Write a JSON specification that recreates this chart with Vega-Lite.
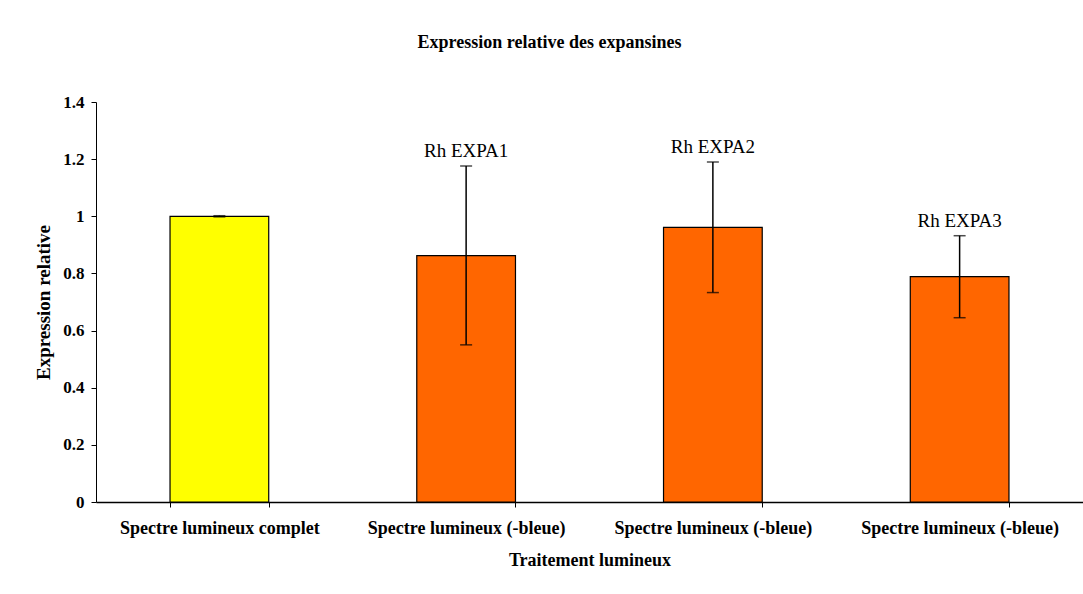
{
  "$schema": "https://vega.github.io/schema/vega-lite/v6.json",
  "width": 987,
  "height": 400,
  "autosize": {"type": "none"},
  "padding": {"left": 96, "top": 102, "right": 0, "bottom": 92},
  "background": "white",
  "config": {"view": {"stroke": null}},
  "title": {
    "text": "Expression relative des expansines",
    "font": "Liberation Serif",
    "fontWeight": "bold",
    "fontSize": 18,
    "color": "black",
    "anchor": "middle",
    "dx": -40,
    "offset": 41
  },
  "data": {
    "values": [
      {"cat": "1|Spectre lumineux complet", "grp": "complet", "val": 1.0, "lo": 0.998, "hi": 1.002, "label": ""},
      {"cat": "2|Spectre lumineux (-bleue)", "grp": "sans bleu", "val": 0.862, "lo": 0.55, "hi": 1.176, "label": "Rh EXPA1"},
      {"cat": "3|Spectre lumineux (-bleue)", "grp": "sans bleu", "val": 0.961, "lo": 0.733, "hi": 1.19, "label": "Rh EXPA2"},
      {"cat": "4|Spectre lumineux (-bleue)", "grp": "sans bleu", "val": 0.789, "lo": 0.645, "hi": 0.932, "label": "Rh EXPA3"}
    ]
  },
  "encoding": {
    "x": {
      "field": "cat",
      "type": "nominal",
      "sort": null,
      "scale": {"paddingInner": 0.6, "paddingOuter": 0.3},
      "axis": {
        "title": "Traitement lumineux",
        "labelExpr": "split(datum.value, '|')[1]",
        "labelAngle": 0,
        "labelLimit": 400,
        "labelFont": "Liberation Serif",
        "labelFontWeight": "bold",
        "labelFontSize": 18,
        "labelColor": "black",
        "labelPadding": 12,
        "tickBand": "extent",
        "tickSize": 5,
        "tickColor": "black",
        "domainColor": "black",
        "domainWidth": 1.5,
        "titleFont": "Liberation Serif",
        "titleFontWeight": "bold",
        "titleFontSize": 18,
        "titleColor": "black",
        "titlePadding": 14
      }
    }
  },
  "layer": [
    {
      "mark": {"type": "bar", "stroke": "black", "strokeWidth": 1.2},
      "encoding": {
        "y": {
          "field": "val",
          "type": "quantitative",
          "scale": {"domain": [0, 1.4], "nice": false},
          "axis": {
            "title": "Expression relative",
            "values": [0, 0.2, 0.4, 0.6, 0.8, 1, 1.2, 1.4],
            "format": ".1~f",
            "grid": false,
            "labelFont": "Liberation Serif",
            "labelFontWeight": "bold",
            "labelFontSize": 17,
            "labelColor": "black",
            "labelPadding": 7,
            "tickSize": 5,
            "tickColor": "black",
            "domainColor": "black",
            "titleFont": "Liberation Serif",
            "titleFontWeight": "bold",
            "titleFontSize": 19,
            "titleColor": "black",
            "titlePadding": 9
          }
        },
        "color": {
          "field": "grp",
          "type": "nominal",
          "scale": {"domain": ["complet", "sans bleu"], "range": ["#FFFF00", "#FF6600"]},
          "legend": null
        }
      }
    },
    {
      "mark": {"type": "rule", "color": "black", "strokeWidth": 1.5},
      "encoding": {
        "y": {"field": "lo", "type": "quantitative"},
        "y2": {"field": "hi"}
      }
    },
    {
      "mark": {"type": "tick", "color": "black", "thickness": 1.5, "size": 12, "orient": "horizontal"},
      "encoding": {"y": {"field": "hi", "type": "quantitative"}}
    },
    {
      "mark": {"type": "tick", "color": "black", "thickness": 1.5, "size": 12, "orient": "horizontal"},
      "encoding": {"y": {"field": "lo", "type": "quantitative"}}
    },
    {
      "mark": {"type": "text", "font": "Liberation Serif", "fontSize": 19, "color": "black", "dy": -15, "baseline": "middle"},
      "encoding": {
        "y": {"field": "hi", "type": "quantitative"},
        "text": {"field": "label"}
      }
    }
  ]
}
